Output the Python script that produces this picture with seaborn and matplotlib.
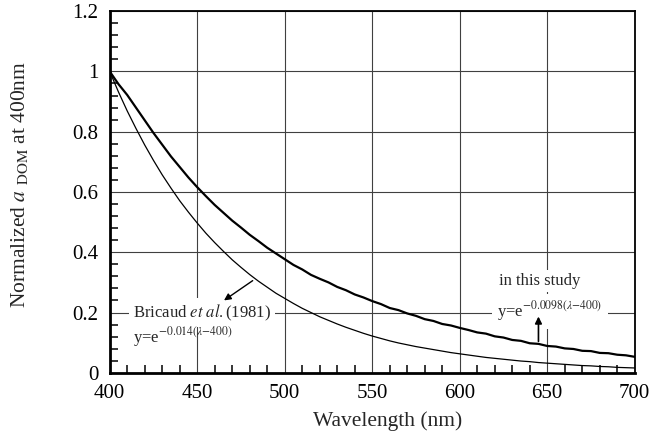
import matplotlib
matplotlib.use("Agg")
import matplotlib.pyplot as plt
import pandas as pd
import seaborn as sns
from matplotlib.ticker import MultipleLocator, FuncFormatter

# values, every 5 nm
wavelength = list(range(400, 701, 5))
measured = [
    1.000, 0.958, 0.922, 0.880, 0.838, 0.796, 0.757, 0.718, 0.683, 0.648,
    0.616, 0.586, 0.557, 0.531, 0.505, 0.482, 0.458, 0.437, 0.415, 0.396,
    0.377, 0.358, 0.343, 0.325, 0.312, 0.300, 0.285, 0.274, 0.260, 0.250,
    0.238, 0.228, 0.215, 0.208, 0.197, 0.189, 0.178, 0.172, 0.162, 0.157,
    0.149, 0.142, 0.134, 0.130, 0.121, 0.117, 0.109, 0.106, 0.098, 0.096,
    0.089, 0.087, 0.081, 0.079, 0.073, 0.072, 0.066, 0.065, 0.060, 0.058,
    0.053,
]
bricaud = [
    1.000, 0.932, 0.869, 0.811, 0.756, 0.705, 0.657, 0.613, 0.571, 0.533,
    0.497, 0.463, 0.432, 0.403, 0.375, 0.350, 0.326, 0.304, 0.284, 0.264,
    0.247, 0.230, 0.214, 0.200, 0.186, 0.174, 0.162, 0.151, 0.141, 0.131,
    0.122, 0.114, 0.106, 0.099, 0.093, 0.087, 0.082, 0.077, 0.072, 0.067,
    0.063, 0.059, 0.055, 0.051, 0.048, 0.045, 0.042, 0.039, 0.037, 0.034,
    0.032, 0.030, 0.028, 0.026, 0.024, 0.023, 0.021, 0.020, 0.018, 0.017,
    0.016,
]

df = pd.DataFrame({"wavelength": wavelength, "measured": measured, "bricaud": bricaud})

sns.set_theme(style="white")
plt.rcParams["font.family"] = ["Liberation Serif", "DejaVu Serif"]
plt.rcParams["mathtext.fontset"] = "stix"

fig = plt.figure(figsize=(6.53, 4.47), dpi=100)
ax = fig.add_axes([0.168, 0.166, 0.804, 0.809])

ax.grid(True, which="major", color="0.25", lw=0.8)
ax.set_axisbelow(True)

sns.lineplot(data=df, x="wavelength", y="bricaud", ax=ax, color="black", lw=0.9)
sns.lineplot(data=df, x="wavelength", y="measured", ax=ax, color="black", lw=1.6)

ax.set_xlim(400, 700)
ax.set_ylim(0, 1.2)
ax.xaxis.set_major_locator(MultipleLocator(50))
ax.xaxis.set_minor_locator(MultipleLocator(10))
ax.yaxis.set_major_locator(MultipleLocator(0.2))
ax.yaxis.set_minor_locator(MultipleLocator(0.04))
ax.yaxis.set_major_formatter(FuncFormatter(lambda v, p: f"{v:g}"))
ax.tick_params(which="major", direction="inout", length=10, width=1.5,
               labelsize=15, colors="black", pad=3)
ax.tick_params(which="minor", direction="in", length=6, width=1.3,
               left=True, bottom=True)
ax.tick_params(which="both", top=False, right=False)

for side in ["left", "bottom"]:
    ax.spines[side].set_linewidth(2.0)
for side in ["top", "right"]:
    ax.spines[side].set_linewidth(1.3)
for sp in ax.spines.values():
    sp.set_color("black")

ax.set_xlabel("Wavelength (nm)", fontsize=15.5)
ax.xaxis.set_label_coords(0.53, -0.105)
ax.set_ylabel(r"Normalized $a$ $_{\mathrm{DOM}}$ at 400nm", fontsize=15.5)
ax.yaxis.set_label_coords(-0.152, 0.522)

ax.text(413.5, 0.200, r"Bricaud $et\ al.$(1981)", fontsize=12, va="center", ha="left",
        bbox=dict(facecolor="white", edgecolor="none", pad=3))
ax.text(413.5, 0.118, r"y=e$^{\mathrm{-0.014(}\lambda\mathrm{-400)}}$", fontsize=12,
        va="center", ha="left")
ax.annotate("", xy=(464, 0.235), xytext=(483, 0.311),
            arrowprops=dict(arrowstyle="-|>", color="black", lw=1.0, mutation_scale=10))

ax.text(622.5, 0.305, "in this study", fontsize=12, va="center", ha="left",
        bbox=dict(facecolor="white", edgecolor="none", pad=2))
ax.text(621.5, 0.205, r"y=e$^{\mathrm{-0.0098(}\lambda\mathrm{-400)}}$", fontsize=12,
        va="center", ha="left", bbox=dict(facecolor="white", edgecolor="none", pad=4))
ax.annotate("", xy=(645, 0.196), xytext=(645, 0.095),
            arrowprops=dict(arrowstyle="-|>", color="black", lw=1.2, mutation_scale=10))

fig.savefig("out.png", dpi=100)
